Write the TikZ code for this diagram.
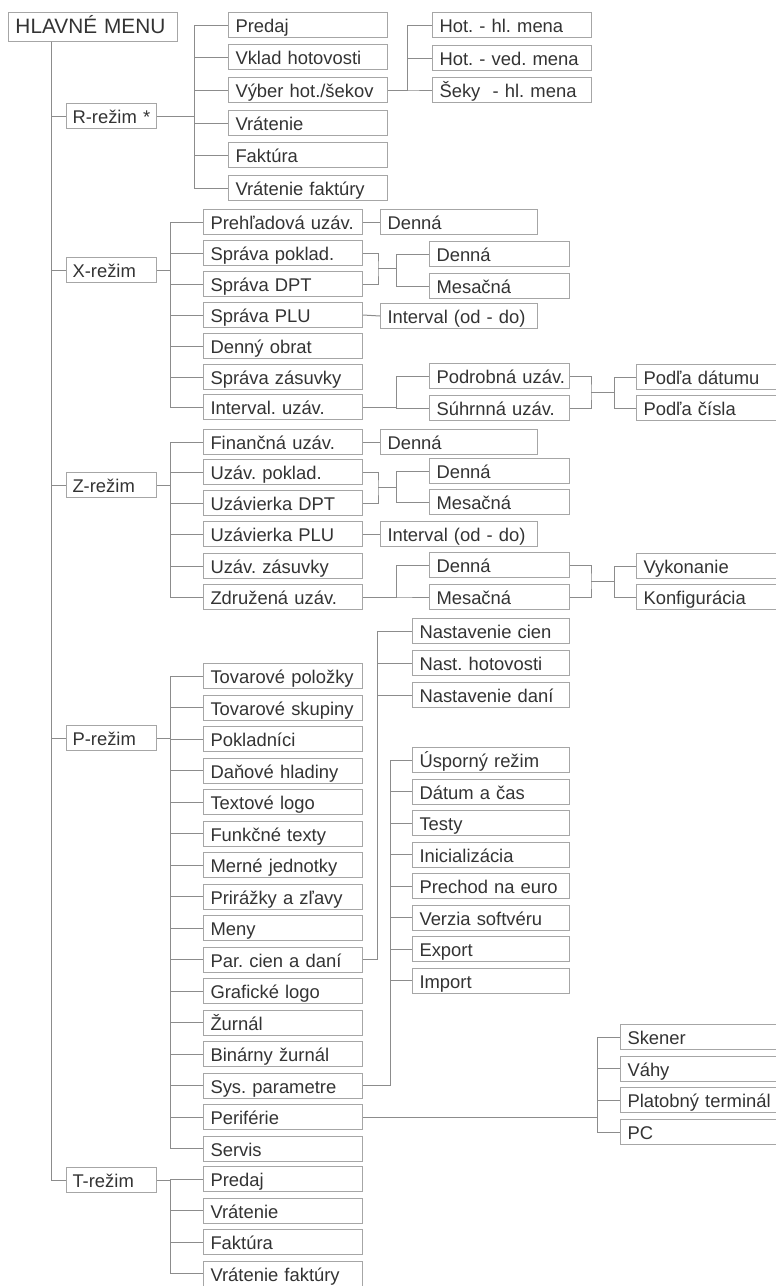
\documentclass[tikz,border=0pt]{standalone}
\usepackage{fontspec}
\setmainfont{Liberation Sans}
\frenchspacing
\hyphenpenalty=10000
\exhyphenpenalty=10000

\definecolor{linegray}{HTML}{8C8C8C}
\definecolor{boxgray}{HTML}{A6A6A6}
\definecolor{txtgray}{HTML}{333333}

\tikzset{
  box/.style={draw=boxgray, line width=0.5pt, anchor=west, align=left,
    inner xsep=3.5pt, inner ysep=0pt, minimum height=12.5pt,
    text height=7.8pt, text depth=0.2pt, text=txtgray,
    font=\fontsize{9.2}{10.5}\selectfont},
  menubox/.style={box, text width=77.5pt, minimum height=14.5pt,
    text height=7.3pt, text depth=0.3pt, font=\fontsize{10.4}{12}\selectfont},
  modebox/.style={box, inner xsep=3pt, text width=39pt},
  itembox/.style={box, text width=72.5pt},
  leafbox/.style={box, text width=71.5pt},
  smallbox/.style={box, text width=63pt},
  peribox/.style={box, text width=71pt},
  wire/.style={draw=linegray, line width=0.5pt}
}

\begin{document}
\begin{tikzpicture}[x=0.5pt, y=-0.5pt]
    \useasboundingbox (0,0) rectangle (776,1286);

    % Nodes
    \node[menubox] (menu) at (8,26.5) {HLAVNÉ~MENU};
    \node[modebox] (rrez) at (66,116) {R-režim~*};
    \node[modebox] (xrez) at (66,270) {X-režim};
    \node[modebox] (zrez) at (66,485) {Z-režim};
    \node[modebox] (prez) at (66,738) {P-režim};
    \node[modebox] (trez) at (66,1180) {T-režim};

    % R-rezim
    \node[itembox] (rpredaj) at (228,25) {Predaj};
    \node[itembox] (rvklad) at (228,57) {Vklad~hotovosti};
    \node[itembox] (rvyber) at (228,90) {Výber~hot./šekov};
    \node[itembox] (rvrat) at (228,123) {Vrátenie};
    \node[itembox] (rfakt) at (228,155) {Faktúra};
    \node[itembox] (rvratf) at (228,188) {Vrátenie~faktúry};
    \node[itembox] (hothl) at (432,25) {Hot.~-~hl.~mena};
    \node[itembox] (hotved) at (432,58) {Hot.~-~ved.~mena};
    \node[itembox] (seky) at (432,90) {Šeky~~-~hl.~mena};

    % X-rezim
    \node[itembox] (xpreh) at (203,222) {Prehľadová~uzáv.};
    \node[itembox] (xpokl) at (203,253) {Správa~poklad.};
    \node[itembox] (xdpt) at (203,284) {Správa~DPT};
    \node[itembox] (xplu) at (203,315) {Správa~PLU};
    \node[itembox] (xobrat) at (203,346) {Denný~obrat};
    \node[itembox] (xzas) at (203,377) {Správa~zásuvky};
    \node[itembox] (xint) at (203,407) {Interval.~uzáv.};
    \node[leafbox] (xprehd) at (380,222) {Denná};
    \node[leafbox] (xintv) at (380,316) {Interval~(od~-~do)};
    \node[smallbox] (xden) at (429,254) {Denná};
    \node[smallbox] (xmes) at (429,286) {Mesačná};
    \node[smallbox] (xpodr) at (429,376) {Podrobná~uzáv.};
    \node[smallbox] (xsuhr) at (429,408) {Súhrnná~uzáv.};
    \node[smallbox] (xdat) at (636,377) {Podľa~dátumu};
    \node[smallbox] (xcis) at (636,408) {Podľa~čísla};

    % Z-rezim
    \node[itembox] (zfin) at (203,442) {Finančná~uzáv.};
    \node[itembox] (zpokl) at (203,472) {Uzáv.~poklad.};
    \node[itembox] (zdpt) at (203,503) {Uzávierka~DPT};
    \node[itembox] (zplu) at (203,534) {Uzávierka~PLU};
    \node[itembox] (zzas) at (203,566) {Uzáv.~zásuvky};
    \node[itembox] (zzdr) at (203,597) {Združená~uzáv.};
    \node[leafbox] (zfind) at (380,442) {Denná};
    \node[leafbox] (zintv) at (380,534) {Interval~(od~-~do)};
    \node[smallbox] (zden) at (429,471) {Denná};
    \node[smallbox] (zmes) at (429,502) {Mesačná};
    \node[smallbox] (zden2) at (429,565) {Denná};
    \node[smallbox] (zmes2) at (429,597) {Mesačná};
    \node[smallbox] (zvyk) at (636,566) {Vykonanie};
    \node[smallbox] (zkonf) at (636,597) {Konfigurácia};

    % P-rezim
    \node[itembox] (ptovpol) at (203,676) {Tovarové~položky};
    \node[itembox] (ptovsk) at (203,707.5) {Tovarové~skupiny};
    \node[itembox] (ppokl) at (203,739) {Pokladníci};
    \node[itembox] (pdan) at (203,770.5) {Daňové~hladiny};
    \node[itembox] (ptext) at (203,802) {Textové~logo};
    \node[itembox] (pfunk) at (203,833.5) {Funkčné~texty};
    \node[itembox] (pmerne) at (203,865) {Merné~jednotky};
    \node[itembox] (ppriraz) at (203,896.5) {Prirážky~a~zľavy};
    \node[itembox] (pmeny) at (203,928) {Meny};
    \node[itembox] (ppar) at (203,959.5) {Par.~cien~a~daní};
    \node[itembox] (pgraf) at (203,991) {Grafické~logo};
    \node[itembox] (pzurn) at (203,1022.5) {Žurnál};
    \node[itembox] (pbin) at (203,1054) {Binárny~žurnál};
    \node[itembox] (psys) at (203,1085.5) {Sys.~parametre};
    \node[itembox] (pperi) at (203,1117) {Periférie};
    \node[itembox] (pservis) at (203,1148.5) {Servis};
    \node[leafbox] (pnacien) at (412,631) {Nastavenie~cien};
    \node[leafbox] (pnahot) at (412,663) {Nast.~hotovosti};
    \node[leafbox] (pnadan) at (412,695) {Nastavenie~daní};
    \node[leafbox] (susp) at (412,760) {Úsporný~režim};
    \node[leafbox] (sdat) at (412,791.5) {Dátum~a~čas};
    \node[leafbox] (stest) at (412,823) {Testy};
    \node[leafbox] (sinit) at (412,854.5) {Inicializácia};
    \node[leafbox] (seuro) at (412,886) {Prechod~na~euro};
    \node[leafbox] (sverz) at (412,917.5) {Verzia~softvéru};
    \node[leafbox] (sexp) at (412,949) {Export};
    \node[leafbox] (simp) at (412,980.5) {Import};
    \node[peribox] (skener) at (620,1037) {Skener};
    \node[peribox] (vahy) at (620,1068.5) {Váhy};
    \node[peribox] (platob) at (620,1100) {Platobný~terminál};
    \node[peribox] (pc) at (620,1132) {PC};

    % T-rezim
    \node[itembox] (tpredaj) at (203,1179) {Predaj};
    \node[itembox] (tvrat) at (203,1210.5) {Vrátenie};
    \node[itembox] (tfakt) at (203,1242) {Faktúra};
    \node[itembox] (tvratf) at (203,1273.5) {Vrátenie~faktúry};

    % Bus lines
    \coordinate (trunk) at (51,0);
    \coordinate (mbus) at (170,0);
    \coordinate (rbus) at (194,0);
    \coordinate (rbus2) at (407,0);
    \coordinate (sbus) at (396,0);
    \coordinate (dbus) at (614,0);
    \coordinate (parbus) at (377,0);
    \coordinate (sysbus) at (390,0);
    \coordinate (peribus) at (597,0);
    \coordinate (xj1) at (378,268.5);
    \coordinate (xj2) at (591,392);
    \coordinate (zj1) at (378,487.5);
    \coordinate (zj2) at (591,581);

    % Lines
    \foreach \m in {rrez,xrez,zrez,prez,trez}
      \draw[wire] (trunk |- menu.south) |- (\m.west);

    \foreach \c in {rpredaj,rvklad,rvyber,rvrat,rfakt,rvratf}
      \draw[wire] (rrez.east) -- (rrez.east -| rbus) |- (\c.west);
    \foreach \c in {hothl,hotved,seky}
      \draw[wire] (rvyber.east) -- (rvyber.east -| rbus2) |- (\c.west);

    \foreach \c in {xpreh,xpokl,xdpt,xplu,xobrat,xzas,xint}
      \draw[wire] (xrez.east) -- (xrez.east -| mbus) |- (\c.west);
    \draw[wire] (xpreh.east) -- (xprehd.west);
    \draw[wire] (xplu.east) -- (xintv.west);
    \draw[wire] (xpokl.east) -| (xj1) |- (xdpt.east);
    \foreach \c in {xden,xmes}
      \draw[wire] (xj1) -- (xj1 -| sbus) |- (\c.west);
    \foreach \c in {xpodr,xsuhr}
      \draw[wire] (xint.east) -- (xint.east -| sbus) |- (\c.west);
    \draw[wire] (xpodr.east) -| (xj2) |- (xsuhr.east);
    \foreach \c in {xdat,xcis}
      \draw[wire] (xj2) -- (xj2 -| dbus) |- (\c.west);

    \foreach \c in {zfin,zpokl,zdpt,zplu,zzas,zzdr}
      \draw[wire] (zrez.east) -- (zrez.east -| mbus) |- (\c.west);
    \draw[wire] (zfin.east) -- (zfind.west);
    \draw[wire] (zplu.east) -- (zintv.west);
    \draw[wire] (zpokl.east) -| (zj1) |- (zdpt.east);
    \foreach \c in {zden,zmes}
      \draw[wire] (zj1) -- (zj1 -| sbus) |- (\c.west);
    \foreach \c in {zden2,zmes2}
      \draw[wire] (zzdr.east) -- (zzdr.east -| sbus) |- (\c.west);
    \draw[wire] (zden2.east) -| (zj2) |- (zmes2.east);
    \foreach \c in {zvyk,zkonf}
      \draw[wire] (zj2) -- (zj2 -| dbus) |- (\c.west);

    \foreach \c in {ptovpol,ptovsk,ppokl,pdan,ptext,pfunk,pmerne,ppriraz,pmeny,ppar,pgraf,pzurn,pbin,psys,pperi,pservis}
      \draw[wire] (prez.east) -- (prez.east -| mbus) |- (\c.west);
    \foreach \c in {pnacien,pnahot,pnadan}
      \draw[wire] (ppar.east) -- (ppar.east -| parbus) |- (\c.west);
    \foreach \c in {susp,sdat,stest,sinit,seuro,sverz,sexp,simp}
      \draw[wire] (psys.east) -- (psys.east -| sysbus) |- (\c.west);
    \foreach \c in {skener,vahy,platob,pc}
      \draw[wire] (pperi.east) -- (pperi.east -| peribus) |- (\c.west);

    \foreach \c in {tpredaj,tvrat,tfakt,tvratf}
      \draw[wire] (trez.east) -- (trez.east -| mbus) |- (\c.west);
\end{tikzpicture}
\end{document}
